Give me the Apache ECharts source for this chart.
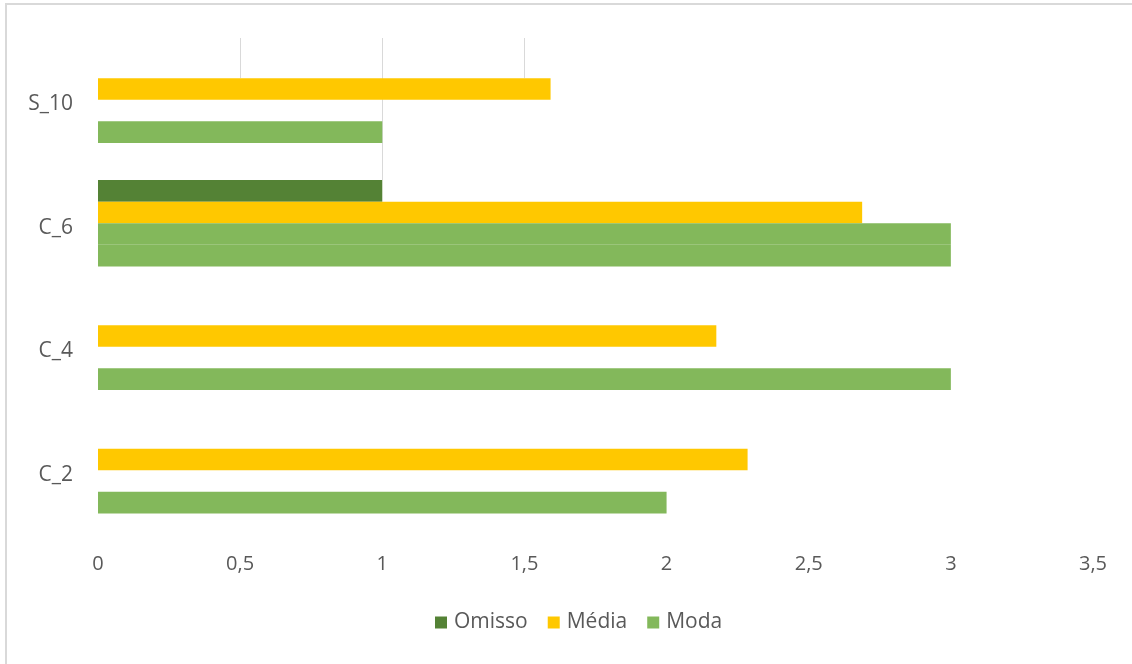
<!DOCTYPE html>
<html>
<head>
<meta charset="utf-8">
<script src="https://cdn.jsdelivr.net/npm/echarts@6/dist/echarts.min.js"></script>
<style>html,body{margin:0;padding:0;background:#fff}#c{width:1132px;height:664px}</style>
</head>
<body>
<div id="c"></div>
<script>
const categories = ['C_2', 'C_4', 'C_6', 'S_10'];
const omisso = [null, null, 1, null];
const media = [2.285, 2.175, 2.688, 1.592];
const moda2 = [null, null, 3, null];
const moda = [2, 3, 3, 1];

const FONT = '"Open Sans", "Noto Sans", sans-serif';
const TXT = '#595959';
const chart = echarts.init(document.getElementById('c'), null, {renderer: 'canvas'});

const barCommon = {type: 'bar', barGap: '0%', barCategoryGap: '30%', silent: true};

chart.setOption({
  animation: false,
  backgroundColor: '#fff',
  grid: {left: 98, right: 39, top: 38, bottom: 132, containLabel: false},
  legend: {
    data: ['Omisso', 'Média', 'Moda'],
    bottom: 26, left: 430,
    itemWidth: 12, itemHeight: 12, itemGap: 20,
    icon: 'rect',
    textStyle: {fontFamily: FONT, fontSize: 21, color: TXT, padding: [0, 0, 0, 2]}
  },
  xAxis: {
    type: 'value', min: 0, max: 3.5, interval: 0.5,
    axisLine: {show: false}, axisTick: {show: false},
    splitLine: {show: false},
    axisLabel: {margin: 22, fontFamily: FONT, fontSize: 20, color: TXT,
      formatter: v => String(v).replace('.', ',')}
  },
  yAxis: {
    type: 'category', data: categories,
    axisLine: {show: false}, axisTick: {show: false},
    axisLabel: {margin: 25, fontFamily: FONT, fontSize: 21, color: TXT,
      verticalAlign: 'top', lineHeight: 9}
  },
  series: [
    Object.assign({}, barCommon, {name: 'Omisso', data: omisso, itemStyle: {color: '#548235'}}),
    Object.assign({}, barCommon, {name: 'Média', data: media, itemStyle: {color: '#FFC800'}}),
    Object.assign({}, barCommon, {name: 'Moda', data: moda2, itemStyle: {color: '#83B85B'}}),
    Object.assign({}, barCommon, {name: 'Moda', data: moda, itemStyle: {color: '#83B85B'}})
  ]
});

// partial vertical gridlines (visible only above the top bars), derived from axes
const topY = 38;
const cS10 = chart.convertToPixel({yAxisIndex: 0}, 'S_10');
const cC6 = chart.convertToPixel({yAxisIndex: 0}, 'C_6');
const band = Math.abs(cC6 - cS10);
const bw = band * 0.7 / 4;
const gridEnds = [[0.5, cS10 - bw], [1, cC6 - 2 * bw], [1.5, cS10 - bw]];
const gfx = gridEnds.map(([v, yEnd]) => {
  const x = Math.round(chart.convertToPixel({xAxisIndex: 0}, v)) + 0.5;
  return {type: 'line', shape: {x1: x, y1: topY, x2: x, y2: yEnd},
    style: {stroke: '#d9d9d9', lineWidth: 1}, z: 0, silent: true};
});
// border of chart area
gfx.push({
  type: 'rect', shape: {x: 6, y: 4, width: 1160, height: 700},
  style: {fill: 'none', stroke: '#d9d9d9', lineWidth: 2}, z: 100, silent: true
});
chart.setOption({graphic: gfx});
</script>
</body>
</html>
